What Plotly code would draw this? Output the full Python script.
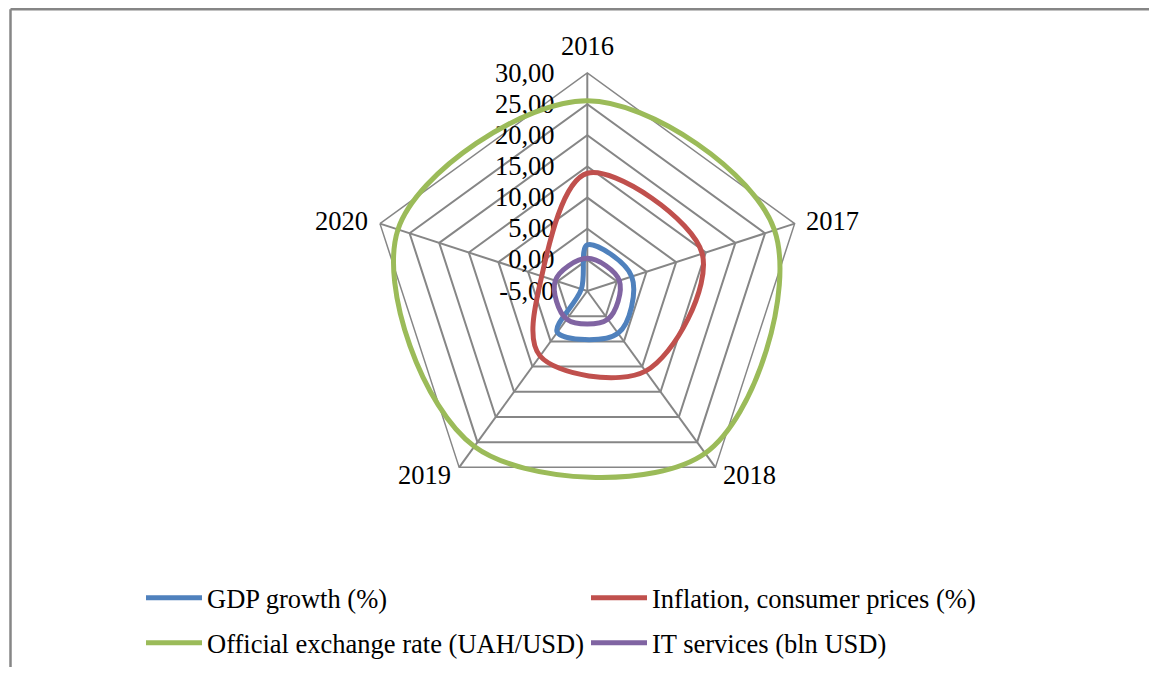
import math
import plotly.graph_objects as go

years = ["2016", "2017", "2018", "2019", "2020"]
gdp_growth = [2.4, 2.5, 3.4, 3.2, -4.0]
inflation = [13.9, 14.4, 10.9, 7.9, 2.7]
exchange_rate = [25.55, 26.6, 27.2, 25.85, 26.96]
it_services = [0.25, 0.4, 0.6, 0.6, 0.4]

series_names = ["GDP growth (%)", "Inflation, consumer prices (%)",
                "Official exchange rate (UAH/USD)", "IT services (bln USD)"]
series_values = [gdp_growth, inflation, exchange_rate, it_services]
series_colors = ["#4F81BD", "#C0504D", "#9BBB59", "#8064A2"]
series_legends = ["legend", "legend", "legend2", "legend2"]

radial_ticks = [-5, 0, 5, 10, 15, 20, 25, 30]
radial_ticktext = ["-5,00", "0,00", "5,00", "10,00", "15,00", "20,00", "25,00", "30,00"]

FONT = "Liberation Serif"
FS = 26.5
# the page body has an 8px margin: the figure is sized so it fits the window
OFF = 8
W, H = 1157 - 2 * OFF, 675 - 2 * OFF

cx, cy, R = 587.3 - OFF, 291.0 - OFF, 218.0
# a second, larger polar (same scale) carries the smoothed lines so that
# their overshoot beyond the outer ring is not clipped
SCALE = 1.15
R2 = R * SCALE
r_min, r_max = radial_ticks[0], radial_ticks[-1]
r2_max = r_min + (r_max - r_min) * SCALE

fig = go.Figure()
# invisible trace that registers the categories on the grid subplot
fig.add_trace(go.Scatterpolar(
    r=[r_min] * len(years), theta=years, subplot="polar", mode="markers",
    marker=dict(opacity=0), showlegend=False, hoverinfo="skip",
))
for name, vals, col, lg in zip(series_names, series_values, series_colors, series_legends):
    fig.add_trace(go.Scatterpolar(
        r=vals + vals[:1], theta=years + years[:1], subplot="polar2",
        mode="lines", name=name, legend=lg,
        line=dict(color=col, width=5, shape="spline", smoothing=1.0),
    ))

GRID = "#868686"


def dom(rad):
    return dict(x=[(cx - rad) / W, (cx + rad) / W], y=[1 - (cy + rad) / H, 1 - (cy - rad) / H])


# category labels placed just outside each corner of the outer ring
annotations = []
LABEL_GAP = 10
for i, yr in enumerate(years):
    ang = math.radians(90 - 360 * i / len(years))
    c, s = math.cos(ang), math.sin(ang)
    px = cx + (R + LABEL_GAP) * c
    py = cy - (R + LABEL_GAP) * s
    xa = "left" if c > 0.1 else ("right" if c < -0.1 else "center")
    ya = "bottom" if s > 0.9 else "middle"
    annotations.append(dict(text=yr, x=px / W, y=1 - py / H, xref="paper", yref="paper",
                            xanchor=xa, yanchor=ya, showarrow=False,
                            font=dict(size=FS, family=FONT, color="black")))

legend_common = dict(orientation="h", x=133 / W, xanchor="left", yanchor="bottom",
                     entrywidth=374, entrywidthmode="pixels", itemwidth=56,
                     font=dict(size=FS, family=FONT), bgcolor="rgba(0,0,0,0)")

fig.update_layout(
    width=W, height=H,
    margin=dict(l=0, r=0, t=0, b=0),
    paper_bgcolor="white",
    font=dict(family=FONT, size=FS, color="black"),
    polar=dict(
        domain=dom(R),
        bgcolor="white",
        gridshape="linear",
        angularaxis=dict(type="category", direction="clockwise", rotation=90, showline=True,
                         linecolor=GRID, linewidth=1.5, gridcolor=GRID,
                         gridwidth=1.5, ticks="", showticklabels=False),
        radialaxis=dict(range=[r_min, r_max], tickvals=radial_ticks, ticktext=radial_ticktext,
                        angle=90, tickangle=90, showline=False, gridcolor=GRID, gridwidth=1.5,
                        ticks="outside", ticklen=23, tickcolor="rgba(0,0,0,0)",
                        side="counterclockwise", tickfont=dict(size=FS, family=FONT)),
    ),
    polar2=dict(
        domain=dom(R2),
        bgcolor="rgba(0,0,0,0)",
        gridshape="linear",
        angularaxis=dict(type="category", direction="clockwise", rotation=90, showline=False,
                         showgrid=False, showticklabels=False, ticks=""),
        radialaxis=dict(range=[r_min, r2_max], visible=False, showgrid=False, showline=False,
                        showticklabels=False, ticks=""),
    ),
    legend=dict(legend_common, y=(H - 614) / H),
    legend2=dict(legend_common, y=0),
    annotations=annotations,
    shapes=[
        dict(type="line", xref="paper", yref="paper", x0=2.5 / W, x1=1, y0=1 - 1.3 / H, y1=1 - 1.3 / H,
             line=dict(color=GRID, width=2.5)),
        dict(type="line", xref="paper", yref="paper", x0=2.5 / W, x1=2.5 / W, y0=1 - 1.3 / H, y1=0,
             line=dict(color=GRID, width=2.5)),
    ],
)

fig.write_html("out.html")
